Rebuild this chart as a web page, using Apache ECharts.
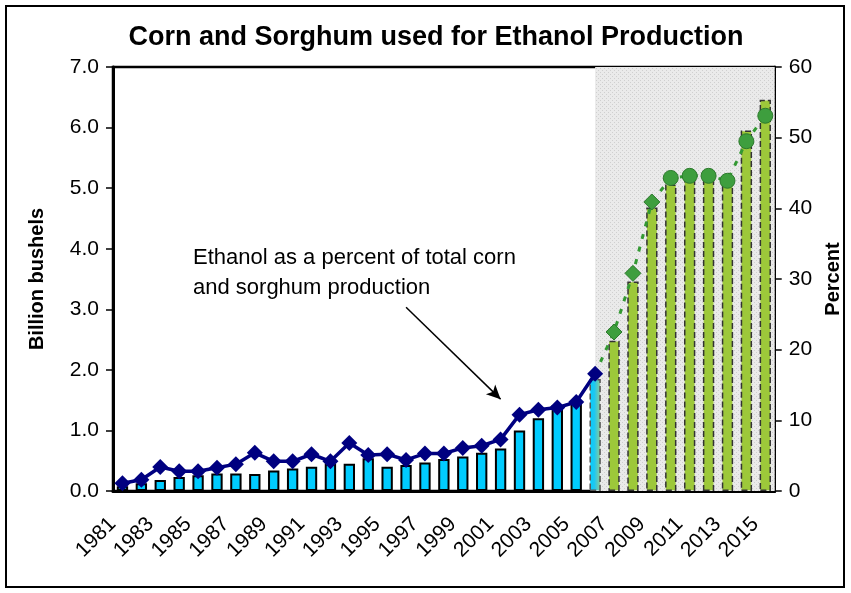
<!DOCTYPE html>
<html>
<head>
<meta charset="utf-8">
<script src="https://cdn.jsdelivr.net/npm/echarts@6/dist/echarts.min.js"></script>
<style>
  html, body { margin: 0; padding: 0; background: #fff; }
  #main { width: 851px; height: 593px; }
</style>
</head>
<body>
<div id="main"></div>
<script>
// crop years shown on the category axis
var years = ['1981','1982','1983','1984','1985','1986','1987','1988','1989','1990',
             '1991','1992','1993','1994','1995','1996','1997','1998','1999','2000',
             '2001','2002','2003','2004','2005','2006','2007','2008','2009','2010',
             '2011','2012','2013','2014','2015'];
// corn + sorghum used for ethanol, billion bushels
var bushels = [0.08, 0.13, 0.18, 0.23, 0.26, 0.29, 0.29, 0.28, 0.34, 0.37,
               0.40, 0.45, 0.45, 0.54, 0.40, 0.43, 0.47, 0.53, 0.57, 0.63,
               0.70, 1.00, 1.20, 1.42, 1.46, 1.85, 2.48, 3.46, 4.68, 5.06,
               5.20, 5.18, 5.20, 5.95, 6.46];
// ethanol use as percent of total corn + sorghum production
var percent = [1.1, 1.6, 3.4, 2.8, 2.8, 3.3, 3.8, 5.4, 4.2, 4.2,
               5.2, 4.2, 6.8, 5.1, 5.2, 4.4, 5.3, 5.3, 6.1, 6.4,
               7.3, 10.8, 11.5, 11.8, 12.6, 16.6, 22.5, 30.8, 40.9, 44.3,
               44.6, 44.6, 43.9, 49.5, 53.1];
var leftTicks = [0, 7, 1];     // min, max, step (billion bushels)
var rightTicks = [0, 60, 10];  // min, max, step (percent)

var lastActual = '2006';     // projections start after this year
var circleFrom = 2010;       // projection markers switch to circles
var arrowFrom = ['1996', 26];
var arrowTo = ['2001', 13];

var cyan = '#00CCFF', green = '#9DC83A', navy = '#000080', dkGreen = '#339933';

var splitIdx = years.indexOf(lastActual);

// gray dotted shading for the projection period
var pat = document.createElement('canvas');
pat.width = 4; pat.height = 4;
var pctx = pat.getContext('2d');
pctx.fillStyle = '#EAEAEA'; pctx.fillRect(0, 0, 4, 4);
pctx.fillStyle = '#CFCFCF'; pctx.fillRect(0, 0, 1, 1); pctx.fillRect(2, 2, 1, 1);

var barData = bushels.map(function (v, i) {
    var style;
    if (i < splitIdx) {
        style = { color: cyan, borderColor: '#000', borderWidth: 2 };
    } else if (i === splitIdx) {
        style = {
            color: new echarts.graphic.LinearGradient(0, 0, 1, 0, [
                { offset: 0, color: cyan }, { offset: 0.45, color: '#20C8F0' }, { offset: 1, color: '#9CCB8A' }
            ]),
            borderColor: '#555', borderWidth: 1.5, borderType: 'dashed'
        };
    } else {
        style = { color: green, borderColor: '#333', borderWidth: 1.5, borderType: 'dashed' };
    }
    return { value: v, itemStyle: style };
});

var actualLine = percent.map(function (v, i) { return i <= splitIdx ? v : null; });
var projLine = percent.map(function (v, i) {
    if (i < splitIdx) return null;
    if (i === splitIdx) return { value: v, symbol: 'none' };
    var circ = +years[i] >= circleFrom;
    return { value: v, symbol: circ ? 'circle' : 'diamond', symbolSize: circ ? 15 : 16 };
});

var chart = echarts.init(document.getElementById('main'));
var font = 'Liberation Sans, Arial, sans-serif';

var option = {
    backgroundColor: '#fff',
    animation: false,
    title: {
        text: 'Corn and Sorghum used for Ethanol Production',
        left: 431,
        textAlign: 'center',
        top: 19,
        textStyle: { fontFamily: font, fontSize: 27, fontWeight: 'bold', color: '#000' }
    },
    graphic: [
        {
            type: 'rect', silent: true, z: 100,
            shape: { x: 6, y: 6, width: 838, height: 581 },
            style: { fill: 'none', stroke: '#000', lineWidth: 2 }
        },
        {
            type: 'text', left: 193, top: 243, z: 100,
            style: {
                text: 'Ethanol as a percent of total corn\nand sorghum production',
                font: '22px Liberation Sans, Arial, sans-serif',
                lineHeight: 30, fill: '#000'
            }
        }
    ],
    grid: {
        left: 113, right: 76, top: 67, bottom: 102,
        show: true, borderColor: '#000', borderWidth: 2.5, backgroundColor: 'transparent'
    },
    xAxis: {
        type: 'category',
        data: years,
        axisLine: { lineStyle: { color: '#000', width: 3 } },
        axisTick: { interval: 0, length: 7, lineStyle: { color: '#666', width: 1.5 } },
        axisLabel: {
            interval: 1, rotate: 45, margin: 20, padding: [0, 14, 0, 0],
            fontFamily: font, fontSize: 21, color: '#000'
        }
    },
    yAxis: [
        {
            type: 'value',
            min: leftTicks[0], max: leftTicks[1], interval: leftTicks[2],
            name: 'Billion bushels', nameLocation: 'middle', nameGap: 66, nameRotate: 90,
            nameTextStyle: { fontFamily: font, fontSize: 20, fontWeight: 'bold', color: '#000' },
            axisLine: { show: true, lineStyle: { color: '#000', width: 3 } },
            axisTick: { show: true, length: 7, lineStyle: { color: '#000', width: 1.5 } },
            axisLabel: {
                margin: 14, fontFamily: font, fontSize: 21, color: '#000',
                formatter: function (v) { return v.toFixed(1); }
            },
            splitLine: { show: false }
        },
        {
            type: 'value',
            min: rightTicks[0], max: rightTicks[1], interval: rightTicks[2],
            position: 'right',
            name: 'Percent', nameLocation: 'middle', nameGap: 46, nameRotate: 90,
            nameTextStyle: { fontFamily: font, fontSize: 20, fontWeight: 'bold', color: '#000' },
            axisLine: { show: true, lineStyle: { color: '#000', width: 2.5 } },
            axisTick: { show: true, length: 7, lineStyle: { color: '#000', width: 1.5 } },
            axisLabel: { margin: 14, fontFamily: font, fontSize: 21, color: '#000' },
            splitLine: { show: false }
        }
    ],
    series: [
        {
            name: 'Billion bushels',
            type: 'bar',
            barWidth: '60%',
            data: barData,
            z: 3
        },
        {
            name: 'Percent',
            type: 'line',
            yAxisIndex: 1,
            data: actualLine,
            z: 5,
            showAllSymbol: true,
            symbol: 'diamond',
            symbolSize: 16,
            lineStyle: { color: navy, width: 3.5 },
            itemStyle: { color: navy },
            markLine: {
                silent: true,
                symbol: ['none', 'arrow'],
                symbolSize: [10, 14],
                label: { show: false },
                lineStyle: { color: '#000', width: 1.5, type: 'solid' },
                data: [[{ coord: arrowFrom }, { coord: arrowTo }]]
            }
        },
        {
            name: 'Percent projected',
            type: 'line',
            yAxisIndex: 1,
            data: projLine,
            z: 4,
            showAllSymbol: true,
            lineStyle: { color: dkGreen, width: 3, type: [5, 8] },
            itemStyle: { color: '#3E9E3E', borderColor: '#2C7A2C', borderWidth: 1 },
            markArea: {
                silent: true,
                z: 1,
                itemStyle: { color: { image: pat, repeat: 'repeat' } },
                data: [[{ xAxis: lastActual }, { xAxis: Infinity }]]
            }
        }
    ]
};

chart.setOption(option);
</script>
</body>
</html>
